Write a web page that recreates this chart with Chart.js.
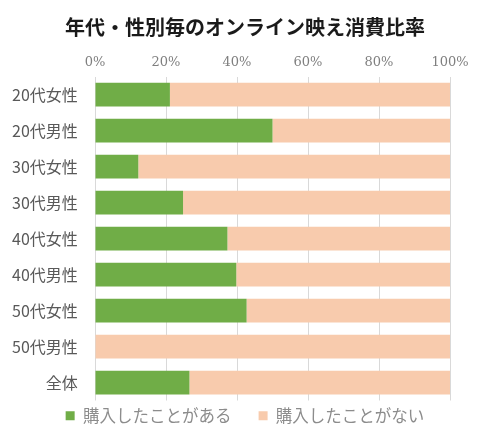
<!DOCTYPE html>
<html>
<head>
<meta charset="utf-8">
<script src="https://cdn.jsdelivr.net/npm/chart.js@4"></script>
<style>
  html, body { margin: 0; padding: 0; background: #fff; }
  #wrap { width: 490px; height: 434px; }
</style>
</head>
<body>
<div id="wrap"><canvas id="chart" width="490" height="434"></canvas></div>
<script>
/* Data */
const categories = ["20代女性", "20代男性", "30代女性", "30代男性", "40代女性", "40代男性", "50代女性", "50代男性", "全体"];
const boughtValues = [21.1, 50.0, 12.2, 24.8, 37.3, 39.8, 42.7, 0, 26.6];
const notBoughtValues = [78.9, 50.0, 87.8, 75.2, 62.7, 60.2, 57.3, 100, 73.4];
const seriesNames = ["購入したことがある", "購入したことがない"];
const xTicks = [0, 20, 40, 60, 80, 100];

const jpFont = "'Noto Sans CJK JP', 'Noto Sans', sans-serif";

const ctx = document.getElementById("chart").getContext("2d");
new Chart(ctx, {
    type: "bar",
    data: {
        labels: categories,
        datasets: [
            {
                label: seriesNames[0],
                data: boughtValues,
                backgroundColor: "#70ad47",
                borderWidth: 0,
                categoryPercentage: 0.66,
                barPercentage: 1.0
            },
            {
                label: seriesNames[1],
                data: notBoughtValues,
                backgroundColor: "#f8cbad",
                borderWidth: 0,
                categoryPercentage: 0.66,
                barPercentage: 1.0
            }
        ]
    },
    options: {
        indexAxis: "y",
        responsive: false,
        animation: false,
        layout: { padding: { left: 40, right: 40, top: 8, bottom: 0 } },
        plugins: {
            title: {
                display: true,
                text: "年代・性別毎のオンライン映え消費比率",
                color: "#1a1a1a",
                font: { family: jpFont, size: 20, weight: "bold" },
                padding: { top: 7, bottom: 10 }
            },
            legend: {
                position: "bottom",
                labels: {
                    color: "#8c8c8c",
                    font: { family: jpFont, size: 16.5 },
                    boxWidth: 9,
                    boxHeight: 9,
                    padding: 7,
                    // widen the gap after the first item, like the reference
                    generateLabels: chart => {
                        const items = Chart.defaults.plugins.legend.labels.generateLabels(chart);
                        items[0].text = items[0].text + "\u3000 ";
                        return items;
                    }
                }
            },
            tooltip: { enabled: false }
        },
        scales: {
            x: {
                position: "top",
                stacked: true,
                min: 0,
                max: 100,
                afterBuildTicks: axis => { axis.ticks = xTicks.map(v => ({ value: v })); },
                ticks: {
                    color: "#7f7f7f",
                    font: { family: "'DejaVu Serif', serif", size: 13 },
                    padding: 6,
                    callback: v => v + "%"
                },
                grid: { color: "#d9d9d9", drawTicks: false },
                border: { display: false }
            },
            y: {
                stacked: true,
                afterFit: axis => { axis.width = 55; },
                // mirrored labels are not clipped to the axis box, so they can sit in the left margin
                ticks: {
                    mirror: true,
                    crossAlign: "far",
                    color: "#595959",
                    font: { family: jpFont, size: 16 },
                    padding: -83
                },
                grid: { display: false, drawTicks: false },
                border: { display: false }
            }
        }
    }
});
</script>
</body>
</html>
